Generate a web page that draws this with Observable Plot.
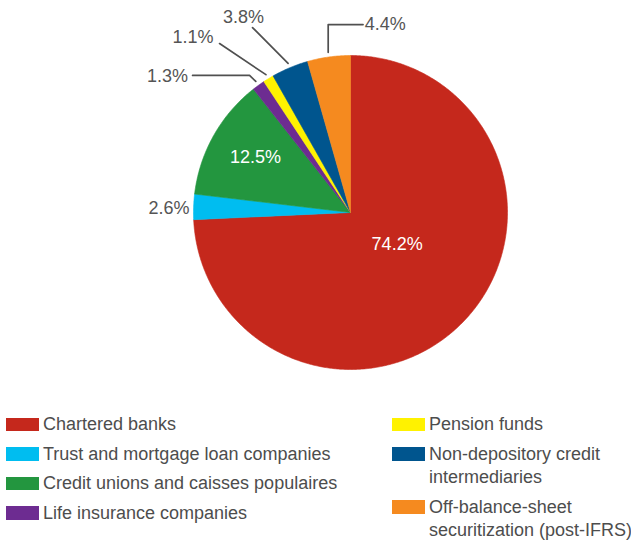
<!DOCTYPE html>
<html><head><meta charset="utf-8">
<script src="https://cdn.jsdelivr.net/npm/d3@7"></script>
<script src="https://cdn.jsdelivr.net/npm/@observablehq/plot@0.6"></script>
<style>
body{margin:0;background:#fff;font-family:"Liberation Sans",Arial,Helvetica,sans-serif;}
#chart{width:631px;height:542px;position:relative;overflow:hidden;}
#chart svg{display:block;}
.col{position:absolute;top:13.25px;}
.item{display:flex;align-items:flex-start;font-size:18px;line-height:23.5px;color:#4d4d4d;margin-bottom:6px;white-space:nowrap;}
.sw{width:33px;height:13.5px;margin-top:4.5px;margin-right:4px;flex:none;}
</style></head><body><div id="chart"></div><script>
// ---- data ----
const categories = ["Chartered banks","Trust and mortgage loan companies","Credit unions and caisses populaires","Life insurance companies","Pension funds","Non-depository credit intermediaries","Off-balance-sheet securitization (post-IFRS)"];
const shares = [74.2, 2.6, 12.5, 1.3, 1.1, 3.8, 4.4];
const shareLabels = ["74.2%","2.6%","12.5%","1.3%","1.1%","3.8%","4.4%"];
const colors = ["#c5281c","#00bdf0","#23963f","#6d2c91","#fff200","#00558e","#f58a1f"];
const legendLeft = [0,1,2,3];
const legendRight = [4,5,6];
const legendLines = [["Chartered banks"],["Trust and mortgage loan companies"],["Credit unions and caisses populaires"],["Life insurance companies"],["Pension funds"],["Non-depository credit","intermediaries"],["Off-balance-sheet","securitization (post-IFRS)"]];

// ---- layout (radius units) ----
const R = 157, CX = 350, CY = 212, W = 631, H = 400;
const labelLayout = [
  {x: 0.297, y: -0.204, anchor: "middle", fill: "white"},
  {x: -1.025, y: 0.025, anchor: "end", fill: "#555"},
  {x: -0.605, y: 0.35, anchor: "middle", fill: "white"},
  {x: -1.035, y: 0.866, anchor: "end", fill: "#555"},
  {x: -1.003, y: 1.115, anchor: "middle", fill: "#555"},
  {x: -0.682, y: 1.242, anchor: "middle", fill: "#555"},
  {x: 0.09, y: 1.197, anchor: "start", fill: "#555"}
];
// leader bends (after start point on arc)
const leaderBends = {
  3: [[-0.643, 0.873], [-1.006, 0.873]],
  4: [[-0.834, 1.076]],
  5: [[-0.624, 1.178]],
  6: [["same", 1.197], [0.08, 1.197]]
};

const total = d3.sum(shares);
let cum = 0;
const slices = shares.map((v, i) => {
  const a0 = cum / total * 2 * Math.PI;
  cum += v;
  const a1 = cum / total * 2 * Math.PI;
  return {i, a0, a1, mid: (a0 + a1) / 2};
});

const marks = [];
for (const s of slices) {
  const pts = [{x: 0, y: 0}];
  const n = Math.max(2, Math.ceil((s.a1 - s.a0) / (Math.PI / 360)));
  for (let k = 0; k <= n; k++) {
    const a = s.a0 + (s.a1 - s.a0) * k / n;
    pts.push({x: Math.sin(a), y: Math.cos(a)});
  }
  pts.push({x: 0, y: 0});
  marks.push(Plot.line(pts, {x: "x", y: "y", fill: colors[s.i], stroke: colors[s.i], strokeWidth: 0.6, strokeLinejoin: "round"}));
}
for (const key of Object.keys(leaderBends)) {
  const s = slices[+key];
  const r0 = 1.03;
  const start = {x: Math.sin(s.mid) * r0, y: Math.cos(s.mid) * r0};
  const pts = [start];
  for (const [bx, by] of leaderBends[key]) pts.push({x: bx === "same" ? start.x : bx, y: by});
  marks.push(Plot.line(pts, {x: "x", y: "y", stroke: "#505050", strokeWidth: 1.7}));
}
const labelData = shareLabels.map((t, i) => ({t, ...labelLayout[i]}));
for (const anchor of ["start", "middle", "end"]) {
  for (const fill of ["white", "#555"]) {
    const d = labelData.filter(l => l.anchor === anchor && l.fill === fill);
    if (d.length) marks.push(Plot.text(d, {x: "x", y: "y", text: "t", textAnchor: anchor, fill, fontSize: 18, lineAnchor: "middle"}));
  }
}

const plot = Plot.plot({
  width: W, height: H,
  marginTop: 0, marginRight: 0, marginBottom: 0, marginLeft: 0,
  style: {fontFamily: "'Liberation Sans', Arial, sans-serif", background: "white"},
  x: {domain: [-CX / R, (W - CX) / R], range: [0, W], axis: null},
  y: {domain: [-(H - CY) / R, CY / R], range: [H, 0], axis: null},
  marks
});
const chart = document.getElementById("chart");
chart.appendChild(plot);

const legend = document.createElement("div");
legend.style.cssText = "position:relative;height:142px;";
function col(idx, left) {
  const c = document.createElement("div");
  c.className = "col";
  c.style.left = left + "px";
  for (const i of idx) {
    const it = document.createElement("div");
    it.className = "item";
    const sw = document.createElement("span");
    sw.className = "sw";
    sw.style.background = colors[i];
    const tx = document.createElement("span");
    tx.innerHTML = legendLines[i].join("<br>");
    it.appendChild(sw); it.appendChild(tx);
    c.appendChild(it);
  }
  legend.appendChild(c);
}
col(legendLeft, 6);
col(legendRight, 392);
chart.appendChild(legend);
</script></body></html>
